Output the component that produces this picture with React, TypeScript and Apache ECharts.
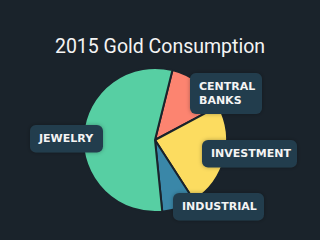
import React, { useEffect, useRef } from "react";
import * as echarts from "echarts";

const categories = ["CENTRAL\nBANKS", "INVESTMENT", "INDUSTRIAL", "JEWELRY"];
const values = [13.3, 23.7, 7.5, 55.5];
const colors = ["#fc8470", "#fcdc60", "#3a87a8", "#57cfa3"];
const titleText = "2015 Gold Consumption";

// label box layout (top-left corner, box width) — layout only
const labelBox: Record<string, [number, number, number]> = {
  "CENTRAL\nBANKS": [190, 73, 72],
  INVESTMENT: [202, 140, 95],
  INDUSTRIAL: [173, 193, 91],
  JEWELRY: [30, 125, 73],
};

export default function App() {
  const ref = useRef<HTMLDivElement>(null);
  useEffect(() => {
    if (!ref.current) return;
    const chart = echarts.init(ref.current, undefined, { renderer: "svg" });
    const padL = 9;
    const padR = 6;
    chart.setOption({
      animation: false,
      backgroundColor: "#1a232b",
      title: {
        text: titleText,
        left: "center",
        top: 31,
        textStyle: {
          color: "#f4f4f4",
          fontFamily: "Roboto, sans-serif",
          fontWeight: "normal",
          fontSize: 19.5,
        },
      },
      series: [
        {
          type: "pie",
          center: [155, 140],
          radius: 72,
          startAngle: 76,
          clockwise: true,
          data: categories.map((c, i) => ({
            name: c,
            value: values[i],
            itemStyle: { color: colors[i] },
            label: { width: labelBox[c][2] - padL - padR },
          })),
          itemStyle: { borderColor: "#1a232b", borderWidth: 2 },
          labelLine: { show: false },
          label: {
            show: true,
            position: "inside",
            formatter: "{b}",
            color: "#f4f4f4",
            fontFamily: "'DejaVu Sans', sans-serif",
            fontWeight: "bold",
            fontSize: 11,
            lineHeight: 13.5,
            backgroundColor: "#243e4d",
            borderRadius: 6,
            padding: [7, padR, 7, padL],
            align: "left",
            overflow: "none",
            shadowBlur: 4,
            shadowColor: "rgba(0,0,0,0.3)",
          },
          labelLayout: (p: any) => {
            const b = labelBox[categories[p.dataIndex]];
            return { x: b[0], y: b[1], align: "left", verticalAlign: "top" };
          },
          emphasis: { disabled: true },
        },
      ],
    });
    return () => chart.dispose();
  }, []);
  return (
    <div
      ref={ref}
      style={{ position: "fixed", left: 0, top: 0, width: 320, height: 240 }}
    />
  );
}
